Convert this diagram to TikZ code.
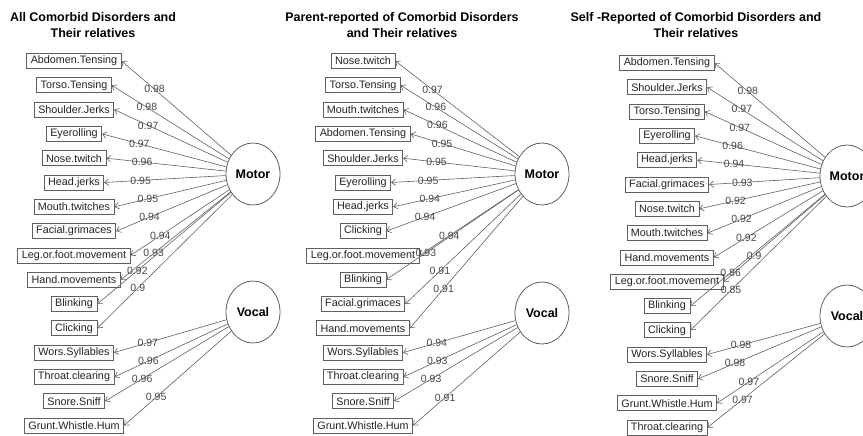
\documentclass[tikz,border=0pt]{standalone}
\usepackage{fontspec}
\setsansfont{Liberation Sans}
\usetikzlibrary{shapes.geometric,arrows.meta}
\definecolor{linegray}{RGB}{95,95,95}
\definecolor{textgray}{RGB}{35,35,35}
\definecolor{coefgray}{RGB}{70,70,70}
\tikzset{
  obs/.style={draw=linegray,line width=0.8pt,inner xsep=4pt,inner ysep=0pt,minimum height=15pt,text=textgray,font=\sffamily\fontsize{10.8}{12}\selectfont},
  latent/.style={ellipse,draw=linegray,line width=0.8pt,minimum width=54pt,minimum height=62pt,inner sep=0pt,font=\sffamily\bfseries\fontsize{12.5}{14}\selectfont},
  load/.style={draw=linegray,line width=0.6pt,-{Straight Barb[length=4pt,width=6.5pt]}},
  coef/.style={text=coefgray,inner sep=0pt,font=\sffamily\fontsize{10.5}{12}\selectfont},
  heading/.style={align=center,font=\sffamily\bfseries\fontsize{12.5}{16}\selectfont}
}
\begin{document}
\begin{tikzpicture}[x=1pt,y=-1pt]
\useasboundingbox (0,0) rectangle (863,436);
%\draw[help lines] (0,0) grid[step=50] (863,436);

% all comorbid disorders
\node (t1) [heading] at (93,25) {All Comorbid Disorders and\\Their relatives};
\node (mot1) [latent] at (253,174) {Motor};
\node (voc1) [latent] at (253,312) {Vocal};
\node (abd1) [obs] at (74,61) {Abdomen.Tensing};
\node (tor1) [obs] at (74,85.3) {Torso.Tensing};
\node (sho1) [obs] at (74,109.6) {Shoulder.Jerks};
\node (eye1) [obs] at (74,133.9) {Eyerolling};
\node (nos1) [obs] at (74,158.2) {Nose.twitch};
\node (hea1) [obs] at (74,182.5) {Head.jerks};
\node (mou1) [obs] at (74,206.8) {Mouth.twitches};
\node (fac1) [obs] at (74,231.1) {Facial.grimaces};
\node (leg1) [obs] at (74,255.4) {Leg.or.foot.movement};
\node (han1) [obs] at (74,279.7) {Hand.movements};
\node (bli1) [obs] at (74,304) {Blinking};
\node (cli1) [obs] at (74,328.3) {Clicking};
\node (wor1) [obs] at (74,352.6) {Wors.Syllables};
\node (thr1) [obs] at (74,376.9) {Throat.clearing};
\node (sno1) [obs] at (74,401.2) {Snore.Sniff};
\node (gru1) [obs] at (74,425.5) {Grunt.Whistle.Hum};
\path[load]
(mot1) edge node [coef,pos=0.7]{0.98} (abd1.east)
(mot1) edge node [coef,pos=0.7]{0.98} (tor1.east)
(mot1) edge node [coef,pos=0.7]{0.97} (sho1.east)
(mot1) edge node [coef,pos=0.7]{0.97} (eye1.east)
(mot1) edge node [coef,pos=0.7]{0.96} (nos1.east)
(mot1) edge node [coef,pos=0.7]{0.95} (hea1.east)
(mot1) edge node [coef,pos=0.7]{0.95} (mou1.east)
(mot1) edge node [coef,pos=0.7]{0.94} (fac1.east)
(mot1) edge node [coef,pos=0.7]{0.94} (leg1.east)
(mot1) edge node [coef,pos=0.7]{0.93} (han1.east)
(mot1) edge node [coef,pos=0.7]{0.92} (bli1.east)
(mot1) edge node [coef,pos=0.7]{0.9} (cli1.east)
(voc1) edge node [coef,pos=0.7]{0.97} (wor1.east)
(voc1) edge node [coef,pos=0.7]{0.96} (thr1.east)
(voc1) edge node [coef,pos=0.7]{0.96} (sno1.east)
(voc1) edge node [coef,pos=0.7]{0.95} (gru1.east);

% parent-reported
\node (t2) [heading] at (402,25) {Parent-reported of Comorbid Disorders\\and Their relatives};
\node (mot2) [latent] at (542,174) {Motor};
\node (voc2) [latent] at (542,313) {Vocal};
\node (nos2) [obs] at (363,61) {Nose.twitch};
\node (tor2) [obs] at (363,85.3) {Torso.Tensing};
\node (mou2) [obs] at (363,109.6) {Mouth.twitches};
\node (abd2) [obs] at (363,133.9) {Abdomen.Tensing};
\node (sho2) [obs] at (363,158.2) {Shoulder.Jerks};
\node (eye2) [obs] at (363,182.5) {Eyerolling};
\node (hea2) [obs] at (363,206.8) {Head.jerks};
\node (cli2) [obs] at (363,231.1) {Clicking};
\node (leg2) [obs] at (363,255.4) {Leg.or.foot.movement};
\node (bli2) [obs] at (363,279.7) {Blinking};
\node (fac2) [obs] at (363,304) {Facial.grimaces};
\node (han2) [obs] at (363,328.3) {Hand.movements};
\node (wor2) [obs] at (363,352.6) {Wors.Syllables};
\node (thr2) [obs] at (363,376.9) {Throat.clearing};
\node (sno2) [obs] at (363,401.2) {Snore.Sniff};
\node (gru2) [obs] at (363,425.5) {Grunt.Whistle.Hum};
\path[load]
(mot2) edge node [coef,pos=0.7]{0.97} (nos2.east)
(mot2) edge node [coef,pos=0.7]{0.96} (tor2.east)
(mot2) edge node [coef,pos=0.7]{0.96} (mou2.east)
(mot2) edge node [coef,pos=0.7]{0.95} (abd2.east)
(mot2) edge node [coef,pos=0.7]{0.95} (sho2.east)
(mot2) edge node [coef,pos=0.7]{0.95} (eye2.east)
(mot2) edge node [coef,pos=0.7]{0.94} (hea2.east)
(mot2) edge node [coef,pos=0.7]{0.94} (cli2.east)
(mot2) edge node [coef,pos=0.7]{0.94} (leg2.east)
(mot2) edge node [coef,pos=0.7]{0.93} (bli2.east)
(mot2) edge node [coef,pos=0.7]{0.91} (fac2.east)
(mot2) edge node [coef,pos=0.7]{0.91} (han2.east)
(voc2) edge node [coef,pos=0.7]{0.94} (wor2.east)
(voc2) edge node [coef,pos=0.7]{0.93} (thr2.east)
(voc2) edge node [coef,pos=0.7]{0.93} (sno2.east)
(voc2) edge node [coef,pos=0.7]{0.91} (gru2.east);

% self-reported
\node (t3) [heading] at (696,25) {Self -Reported of Comorbid Disorders and\\Their relatives};
\node (mot3) [latent] at (847,176) {Motor};
\node (voc3) [latent] at (847,316) {Vocal};
\node (abd3) [obs] at (667,63) {Abdomen.Tensing};
\node (sho3) [obs] at (667,87.3) {Shoulder.Jerks};
\node (tor3) [obs] at (667,111.6) {Torso.Tensing};
\node (eye3) [obs] at (667,135.9) {Eyerolling};
\node (hea3) [obs] at (667,160.2) {Head.jerks};
\node (fac3) [obs] at (667,184.5) {Facial.grimaces};
\node (nos3) [obs] at (667,208.8) {Nose.twitch};
\node (mou3) [obs] at (667,233.1) {Mouth.twitches};
\node (han3) [obs] at (667,257.4) {Hand.movements};
\node (leg3) [obs] at (667,281.7) {Leg.or.foot.movement};
\node (bli3) [obs] at (667,306) {Blinking};
\node (cli3) [obs] at (667,330.3) {Clicking};
\node (wor3) [obs] at (667,354.6) {Wors.Syllables};
\node (sno3) [obs] at (667,378.9) {Snore.Sniff};
\node (gru3) [obs] at (667,403.2) {Grunt.Whistle.Hum};
\node (thr3) [obs] at (667,427.5) {Throat.clearing};
\path[load]
(mot3) edge node [coef,pos=0.7]{0.98} (abd3.east)
(mot3) edge node [coef,pos=0.7]{0.97} (sho3.east)
(mot3) edge node [coef,pos=0.7]{0.97} (tor3.east)
(mot3) edge node [coef,pos=0.7]{0.96} (eye3.east)
(mot3) edge node [coef,pos=0.7]{0.94} (hea3.east)
(mot3) edge node [coef,pos=0.7]{0.93} (fac3.east)
(mot3) edge node [coef,pos=0.7]{0.92} (nos3.east)
(mot3) edge node [coef,pos=0.7]{0.92} (mou3.east)
(mot3) edge node [coef,pos=0.7]{0.92} (han3.east)
(mot3) edge node [coef,pos=0.7]{0.9} (leg3.east)
(mot3) edge node [coef,pos=0.7]{0.86} (bli3.east)
(mot3) edge node [coef,pos=0.7]{0.85} (cli3.east)
(voc3) edge node [coef,pos=0.7]{0.98} (wor3.east)
(voc3) edge node [coef,pos=0.7]{0.98} (sno3.east)
(voc3) edge node [coef,pos=0.7]{0.97} (gru3.east)
(voc3) edge node [coef,pos=0.7]{0.97} (thr3.east);
\end{tikzpicture}
\end{document}
